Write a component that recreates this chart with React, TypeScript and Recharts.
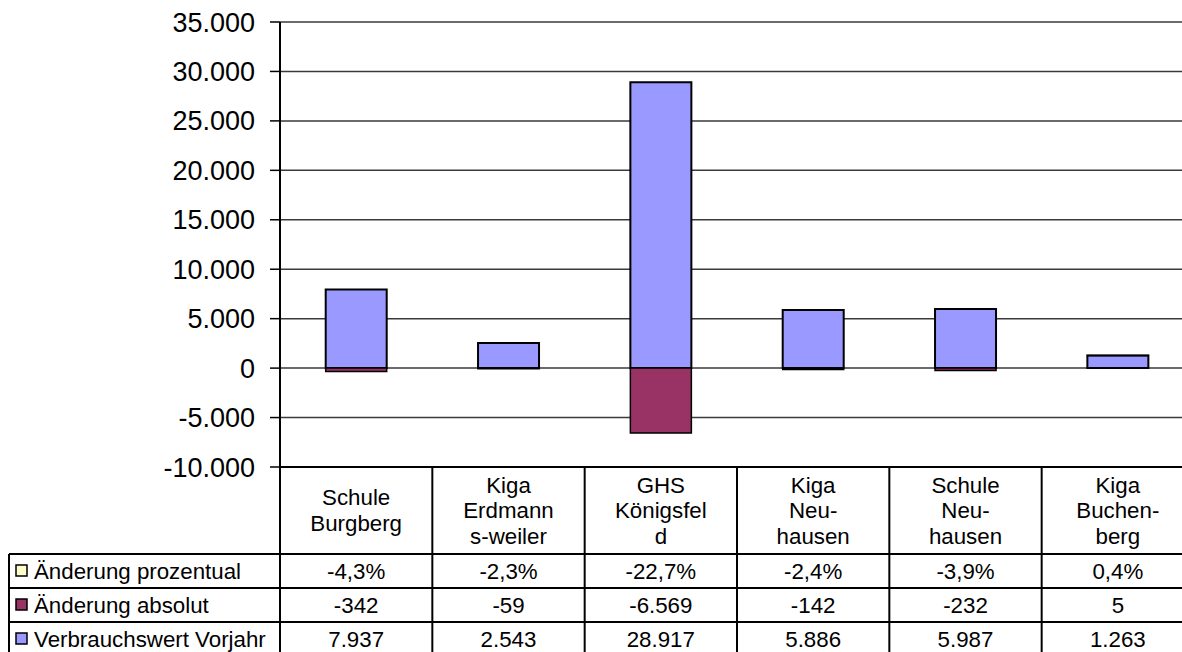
import React from 'react';
import { BarChart, Bar, XAxis, YAxis, CartesianGrid } from 'recharts';

const categories = [
  ['Schule', 'Burgberg'],
  ['Kiga', 'Erdmann', 's-weiler'],
  ['GHS', 'Königsfel', 'd'],
  ['Kiga', 'Neu-', 'hausen'],
  ['Schule', 'Neu-', 'hausen'],
  ['Kiga', 'Buchen-', 'berg'],
];
const vorjahr = [7937, 2543, 28917, 5886, 5987, 1263];
const absolut = [-342, -59, -6569, -142, -232, 5];
const prozentual = [-4.3, -2.3, -22.7, -2.4, -3.9, 0.4];
const yTicks = [-10000, -5000, 0, 5000, 10000, 15000, 20000, 25000, 30000, 35000];

const seriesNames = ['Änderung prozentual', 'Änderung absolut', 'Verbrauchswert Vorjahr'];
const seriesColors = ['#FFFFCC', '#993366', '#9999FF'];

const data = categories.map((c, i) => ({
  name: c.join(' '),
  vorjahr: vorjahr[i],
  absolut: absolut[i],
  pct: prozentual[i] / 100,
}));

const FONT = '"Liberation Sans", Arial, sans-serif';

// German number format: 28.917 / -4,3
const fmtInt = (v: number) => {
  const s = Math.abs(v).toString().replace(/\B(?=(\d{3})+(?!\d))/g, '.');
  return (v < 0 ? '-' : '') + s;
};
const fmtPct = (v: number) => v.toFixed(1).replace('.', ',') + '%';

// layout
const PLOT_LEFT = 280;
const PLOT_TOP = 22;
const PLOT_BOTTOM = 467;
const COL_W = 914 / 6;
const HEAD_BOTTOM = 554;
const ROWS = [554, 588, 622, 656];
const TABLE_LEFT = 9;
const TABLE_FONT = 22.3;

const CategoryTick = (props: any) => {
  const { x, index } = props;
  const lines = categories[index] || [];
  const mid = (PLOT_BOTTOM + HEAD_BOTTOM) / 2;
  const lh = 25.5;
  const start = mid - ((lines.length - 1) * lh) / 2;
  const vals = [fmtPct(prozentual[index]), fmtInt(absolut[index]), fmtInt(vorjahr[index])];
  return (
    <g>
      <line x1={x + COL_W / 2} x2={x + COL_W / 2} y1={PLOT_BOTTOM} y2={652} stroke="#000" strokeWidth={2} />
      {lines.map((l, k) => (
        <text key={k} x={x} y={start + k * lh} textAnchor="middle" dominantBaseline="central"
          fontFamily={FONT} fontSize={TABLE_FONT} fill="#000">{l}</text>
      ))}
      {vals.map((v, k) => (
        <text key={'v' + k} x={x} y={(ROWS[k] + ROWS[k + 1]) / 2} textAnchor="middle" dominantBaseline="central"
          fontFamily={FONT} fontSize={TABLE_FONT} fill="#000">{v}</text>
      ))}
    </g>
  );
};

export default function App() {
  return (
    <div style={{ position: 'fixed', left: 0, top: 0, width: 1182, height: 652, overflow: 'hidden', background: '#fff' }}>
      <BarChart
        width={1200}
        height={652}
        data={data}
        stackOffset="sign"
        barCategoryGap="30%"
        margin={{ top: PLOT_TOP, right: 6, left: 160, bottom: 0 }}
      >
        <CartesianGrid vertical={false} stroke="#3a3a3a" strokeWidth={1.5} />
        <XAxis
          dataKey="name"
          axisLine={{ stroke: '#000', strokeWidth: 2 }}
          tickLine={false}
          height={652 - PLOT_BOTTOM}
          interval={0}
          tick={<CategoryTick />}
        />
        <YAxis
          width={120}
          domain={[-10000, 35000]}
          ticks={yTicks}
          tickFormatter={fmtInt}
          axisLine={{ stroke: '#000', strokeWidth: 2 }}
          tickLine={{ stroke: '#000', strokeWidth: 1.5 }}
          tickSize={10}
          tickMargin={15}
          tick={{ fontSize: 27, fill: '#000', fontFamily: FONT }}
        />
        <Bar dataKey="vorjahr" stackId="a" fill="#9999FF" stroke="#000" strokeWidth={2} isAnimationActive={false} />
        <Bar dataKey="absolut" stackId="a" fill="#993366" stroke="#000" strokeWidth={1.5} isAnimationActive={false} />
        <Bar dataKey="pct" stackId="a" fill="#FFFFCC" stroke="none" isAnimationActive={false} />
      </BarChart>
      <svg width={1182} height={652} style={{ position: 'absolute', left: 0, top: 0, pointerEvents: 'none' }}>
        <line x1={PLOT_LEFT} x2={PLOT_LEFT} y1={PLOT_BOTTOM} y2={652} stroke="#000" strokeWidth={2} />
        <line x1={TABLE_LEFT} x2={TABLE_LEFT} y1={HEAD_BOTTOM} y2={652} stroke="#000" strokeWidth={2} />
        {ROWS.slice(0, 3).map((y, k) => (
          <line key={k} x1={TABLE_LEFT} x2={1182} y1={y} y2={y} stroke="#000" strokeWidth={2} />
        ))}
        {seriesNames.map((n, k) => {
          const cy = (ROWS[k] + ROWS[k + 1]) / 2;
          return (
            <g key={n}>
              <rect x={16} y={cy - 6} width={11} height={11} fill={seriesColors[k]} stroke="#000" strokeWidth={1.5} />
              <text x={34} y={cy} dominantBaseline="central" fontFamily={FONT} fontSize={TABLE_FONT} fill="#000">{n}</text>
            </g>
          );
        })}
      </svg>
    </div>
  );
}
